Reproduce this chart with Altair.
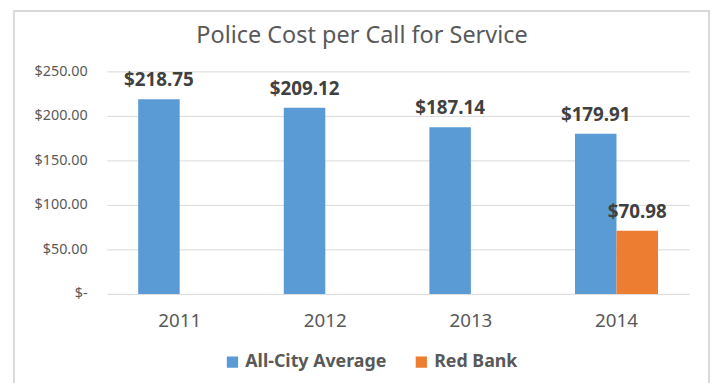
import altair as alt
import pandas as pd

years = ["2011", "2012", "2013", "2014"]
all_city = [218.75, 209.12, 187.14, 179.91]
red_bank = [None, None, None, 70.98]
series_names = ["All-City Average", "Red Bank"]
colors = ["#5B9BD5", "#ED7D31"]
title_text = "Police Cost per Call for Service"

rows = []
for i, y in enumerate(years):
    rows.append({"year": y, "series": series_names[0], "value": all_city[i]})
    if red_bank[i] is not None:
        rows.append({"year": y, "series": series_names[1], "value": red_bank[i]})
df = pd.DataFrame(rows)
df["label"] = df["value"].map(lambda v: f"${v:,.2f}")

FONT = "Noto Sans"
TXT = "#595959"

x = alt.X("year:N", title=None,
          scale=alt.Scale(paddingInner=0.43, paddingOuter=0.215),
          axis=alt.Axis(labelAngle=0, labelFontSize=19, labelColor=TXT, labelFont=FONT,
                        domain=False, ticks=False, labelPadding=18))
xo = alt.XOffset("series:N", scale=alt.Scale(domain=series_names, paddingInner=0, paddingOuter=0))
y = alt.Y("value:Q", title=None,
          scale=alt.Scale(domain=[0, 250]),
          axis=alt.Axis(values=[0, 50, 100, 150, 200, 250],
                        labelExpr="datum.value == 0 ? '$-' : '$' + format(datum.value, ',.2f')",
                        labelFontSize=14.5, labelColor=TXT, labelFont=FONT,
                        domain=False, ticks=False, gridColor="#D9D9D9", labelPadding=20))

base = alt.Chart(df)
bars = base.mark_bar().encode(
    x=x, xOffset=xo, y=y,
    color=alt.Color("series:N", scale=alt.Scale(domain=series_names, range=colors),
                    legend=alt.Legend(orient="none", legendX=118, legendY=285,
                                      direction="horizontal", title=None, labelFontSize=18,
                                      labelFontWeight="bold", labelColor=TXT, labelFont=FONT,
                                      symbolType="square", symbolSize=130, columnPadding=26,
                                      symbolStrokeWidth=0)),
)
labels = base.mark_text(dy=-19, fontSize=19, fontWeight="bold", color="#404040", font=FONT).encode(
    x=x, xOffset=xo, y=y, text="label:N"
)
one = pd.DataFrame({"t": [title_text]})
frame = alt.Chart(one).mark_rect(fill="transparent", stroke="#D9D9D9", strokeWidth=2).encode(
    x=alt.value(-94), x2=alt.value(609), y=alt.value(-61), y2=alt.value(320)
)
title = alt.Chart(one).mark_text(fontSize=23.7, color=TXT, font=FONT, align="center", baseline="middle").encode(
    x=alt.value(258), y=alt.value(-36), text="t:N"
)

chart = (frame + bars + labels + title).properties(
    width=589, height=225,
    autosize=alt.AutoSizeParams(type="none"),
    padding={"left": 100, "top": 62, "right": 26, "bottom": 88},
).configure_view(stroke=None)

chart.save("out.html", embed_options={"renderer": "svg", "actions": False})
